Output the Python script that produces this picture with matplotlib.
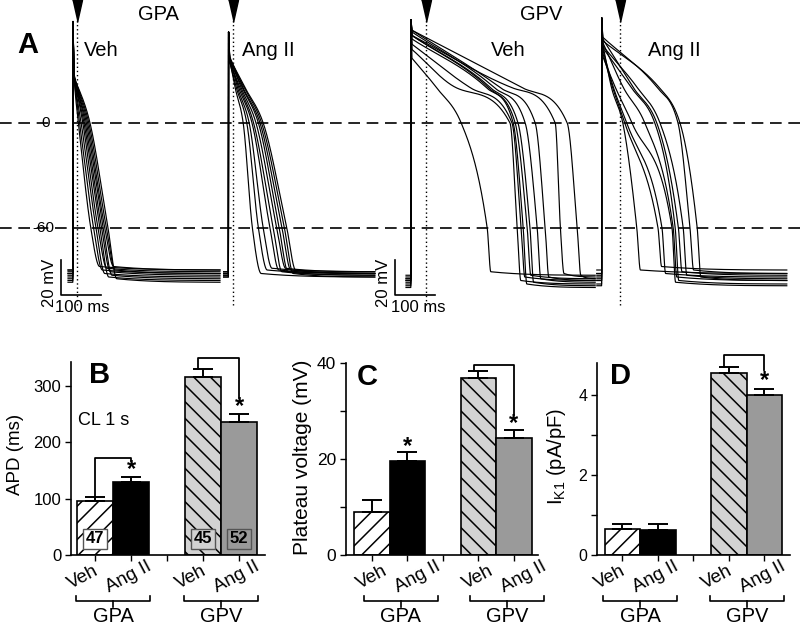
import numpy as np
import matplotlib
matplotlib.use('Agg')
import matplotlib.pyplot as plt
from matplotlib.transforms import blended_transform_factory

plt.rcParams['font.family'] = ['Liberation Sans', 'DejaVu Sans']
plt.rcParams['mathtext.fontset'] = 'custom'
plt.rcParams['mathtext.rm'] = 'Liberation Sans'
plt.rcParams['mathtext.it'] = 'Liberation Sans:italic'
plt.rcParams['hatch.linewidth'] = 1.1
plt.rcParams['hatch.color'] = 'black'

# ---------------- Panel A data ----------------
AP_ONSET_MS = [182, 571, 1027, 1504]      # upstroke of each group on the sweep
AP_STIM_MS = [193, 583, 1065, 1550]       # stimulus markers
AP_PEAK_MV = [58, 52, 59, 60]
AP_END_MS = [368, 366, 461, 463]
AP_FOOT_MS = [22, 22, 9, 9]

GPA_VEH_VSTART = [27, 26, 28, 25, 27, 26, 28, 27, 26, 25]
GPA_VEH_T20 = [5, 6, 7, 8, 9, 10, 11, 12, 13, 14]
GPA_VEH_T0 = [14, 17, 21, 25, 28, 31, 34, 37, 40, 43]
GPA_VEH_T60 = [45, 52, 58, 63, 68, 72, 76, 80, 84, 88]
GPA_VEH_VREST = [-84, -86, -88, -85, -90, -87, -89, -84, -86, -91]

GPA_ANG_VSTART = [36, 35, 37, 36, 35, 37, 36, 38, 36, 37]
GPA_ANG_T20 = [17, 20, 23, 26, 29, 32, 35, 37, 40, 42]
GPA_ANG_T0 = [37, 46, 52, 59, 63, 69, 75, 79, 83, 87]
GPA_ANG_T60 = [60, 75, 87, 104, 112, 121, 127, 134, 140, 146]
GPA_ANG_VREST = [-88, -86, -85, -86, -87, -85, -87, -86, -88, -86]

GPV_VEH_VSTART = [37, 42, 45, 48, 50, 50, 52, 53, 50, 53]
GPV_VEH_T20 = [65, 115, 150, 190, 195, 200, 210, 225, 255, 280]
GPV_VEH_T0 = [126, 248, 253, 256, 261, 268, 286, 311, 361, 391]
GPV_VEH_T60 = [191, 266, 276, 281, 291, 298, 316, 336, 374, 416]
GPV_VEH_VREST = [-87, -92, -90, -94, -89, -93, -91, -90, -88, -89]

GPV_ANG_VSTART = [45, 40, 42, 38, 46, 43, 48, 44, 49, 47]
GPV_ANG_T20 = [25, 28, 30, 35, 55, 75, 80, 90, 140, 145]
GPV_ANG_T0 = [53, 58, 63, 76, 108, 133, 138, 146, 191, 196]
GPV_ANG_T60 = [88, 141, 151, 176, 179, 184, 192, 204, 221, 239]
GPV_ANG_VREST = [-86, -84, -88, -93, -90, -92, -87, -89, -86, -90]

SCALE_MV = 20
SCALE_MS = 100

# ---------------- Panels B-D data ----------------
BAR_X = [0, 1, 3, 4]
BAR_CATS = ['Veh', 'Ang II', 'Veh', 'Ang II']
GROUPS = ['GPA', 'GPV']
APD_MEAN = [96, 129, 315, 236]
APD_SEM = [7, 10, 14, 13]
APD_N = ['47', '', '45', '52']
PLATEAU_MEAN = [9.0, 19.5, 36.9, 24.3]
PLATEAU_SEM = [2.5, 1.9, 1.4, 1.8]
IK1_MEAN = [0.66, 0.625, 4.54, 3.99]
IK1_SEM = [0.11, 0.15, 0.15, 0.17]

W, H = 800, 627
fig = plt.figure(figsize=(8, 6.27), dpi=100)


def fx(px):
    return px / W


def fy(py):
    return 1 - py / H


def smooth_curve(x, y, xi):
    """Monotone cubic Hermite curve through the knots (geometric-mean tangents + limiter)."""
    x = np.asarray(x, float)
    y = np.asarray(y, float)
    h = np.diff(x)
    d = np.diff(y) / h
    n = len(x)
    m = np.zeros(n)
    m[0] = d[0]
    m[-1] = d[-1]
    for k in range(1, n - 1):
        if d[k - 1] * d[k] > 0:
            m[k] = np.sign(d[k]) * np.sqrt(d[k - 1] * d[k])
    for k in range(n - 1):
        if d[k] == 0:
            m[k] = m[k + 1] = 0
            continue
        a = m[k] / d[k]
        b = m[k + 1] / d[k]
        s = a * a + b * b
        if s > 9:
            tau = 3 / np.sqrt(s)
            m[k] = tau * a * d[k]
            m[k + 1] = tau * b * d[k]
    idx = np.clip(np.searchsorted(x, xi) - 1, 0, n - 2)
    t = (xi - x[idx]) / h[idx]
    h00 = 2 * t**3 - 3 * t**2 + 1
    h10 = t**3 - 2 * t**2 + t
    h01 = -2 * t**3 + 3 * t**2
    h11 = t**3 - t**2
    return h00 * y[idx] + h10 * h[idx] * m[idx] + h01 * y[idx + 1] + h11 * h[idx] * m[idx + 1]


# ---------------- Panel A ----------------
PX_PER_MS = 0.4
PX_PER_MV = 1.75
Y0_PX = 123
A_TOP_PX = 320
axA = fig.add_axes([0, fy(A_TOP_PX), 1, A_TOP_PX / H])
axA.set_xlim(0, W / PX_PER_MS)
axA.set_ylim((Y0_PX - A_TOP_PX) / PX_PER_MV, Y0_PX / PX_PER_MV)
axA.axis('off')


def a_ms(px):
    return px / PX_PER_MS


def a_mv(py):
    return (Y0_PX - py) / PX_PER_MV


groups = [
    (GPA_VEH_VSTART, GPA_VEH_T20, GPA_VEH_T0, GPA_VEH_T60, GPA_VEH_VREST),
    (GPA_ANG_VSTART, GPA_ANG_T20, GPA_ANG_T0, GPA_ANG_T60, GPA_ANG_VREST),
    (GPV_VEH_VSTART, GPV_VEH_T20, GPV_VEH_T0, GPV_VEH_T60, GPV_VEH_VREST),
    (GPV_ANG_VSTART, GPV_ANG_T20, GPV_ANG_T0, GPV_ANG_T60, GPV_ANG_VREST),
]
for g, (vs, t20, t0, t60, vr) in enumerate(groups):
    onset = AP_ONSET_MS[g]
    end = AP_END_MS[g]
    foot = AP_FOOT_MS[g]
    for i in range(len(vs)):
        kt = [3, t20[i], t0[i], t60[i], t60[i] + foot, end]
        kv = [vs[i], 20, 0, -60, vr[i] + 2, vr[i]]
        tt = np.linspace(3, end, 1200)
        vv = smooth_curve(kt, kv, tt)
        t_all = np.concatenate([[-12, 0, 0.4], tt])
        v_all = np.concatenate([[vr[i], vr[i], AP_PEAK_MV[g]], vv])
        axA.plot(onset + t_all, v_all, color='black', lw=0.85)

for lvl in (0, -60):
    axA.axhline(lvl, color='black', lw=1.2, ls=(0, (7, 4)), zorder=5)
axA.text(a_ms(46), 0, '0', ha='center', va='center', fontsize=11, zorder=4)
axA.text(a_ms(54), -60, '-60', ha='right', va='center', fontsize=11, zorder=4)

tri = [(-0.45, 1), (0.45, 1), (0, -1)]
for s in AP_STIM_MS:
    axA.plot([s], [a_mv(11)], marker=tri, ms=16, color='black', clip_on=False, ls='none')
    axA.plot([s, s], [a_mv(305), a_mv(20)], color='black', lw=1.0, ls=(0, (1, 2)))

# scale bars
for sbx_px, sbx_txt_v, sbx_txt_h in [(61, 49, 82), (395, 383, 418)]:
    x0 = a_ms(sbx_px)
    yb = a_mv(295)
    axA.plot([x0, x0, x0 + SCALE_MS], [yb + SCALE_MV, yb, yb], color='black', lw=1.2)
    axA.text(a_ms(sbx_txt_v), a_mv(283), f'{SCALE_MV} mV', rotation=90, ha='center', va='center', fontsize=12)
    axA.text(a_ms(sbx_txt_h), a_mv(307), f'{SCALE_MS} ms', ha='center', va='center', fontsize=12)

fig.text(fx(28), fy(45), 'A', fontsize=21, fontweight='bold', ha='center', va='center')
fig.text(fx(158), fy(14), 'GPA', fontsize=14.5, ha='center', va='center')
fig.text(fx(541), fy(14), 'GPV', fontsize=14.5, ha='center', va='center')
for px, lab in [(101, 'Veh'), (268, 'Ang II'), (508, 'Veh'), (674, 'Ang II')]:
    fig.text(fx(px), fy(51), lab, fontsize=14.5, ha='center', va='center')

# ---------------- Panels B-D ----------------
FACES = ['white', 'black', '#d2d2d2', '#9a9a9a']
HATCHES = ['//', None, '\\\\', None]


def bar_panel(rect, unit_px, xlim, means, sems, ylim, yticks, minor, ylabel, ylab_pos, ylab_fs,
              letter, letter_pos, label_shift, tick_fs):
    ax = fig.add_axes([fx(rect[0]), fy(rect[3]), (rect[1] - rect[0]) / W, (rect[3] - rect[2]) / H])
    for x, m, fc, ht in zip(BAR_X, means, FACES, HATCHES):
        ax.bar(x, m, width=1.0, color=fc, edgecolor='black', linewidth=1.2, hatch=ht, zorder=2)
    ax.errorbar(BAR_X, means, yerr=[[0] * 4, sems], fmt='none', ecolor='black',
                elinewidth=1.4, capsize=7, capthick=1.4, zorder=3)
    ax.set_xlim(*xlim)
    ax.set_ylim(*ylim)
    ax.set_yticks(yticks)
    if minor:
        ax.set_yticks(minor, minor=True)
    ax.set_xticks([0, 1, 2, 3, 4])
    ax.set_xticklabels([])
    ax.tick_params(axis='both', which='both', direction='out', length=4, width=1.0)
    ax.tick_params(axis='y', labelsize=tick_fs, pad=3)
    for sp in ['top', 'right']:
        ax.spines[sp].set_visible(False)
    for sp in ['left', 'bottom']:
        ax.spines[sp].set_linewidth(1.2)
    fig.text(fx(ylab_pos[0]), fy(ylab_pos[1]), ylabel, rotation=90, ha='center', va='center', fontsize=ylab_fs)
    fig.text(fx(letter_pos[0]), fy(letter_pos[1]), letter, fontsize=21, fontweight='bold', ha='center', va='center')

    tr = blended_transform_factory(ax.transData, fig.transFigure)
    veh_sh, ang_sh, grp_sh = [v / unit_px for v in label_shift]
    for x, cat in zip(BAR_X, BAR_CATS):
        sh = veh_sh if cat == 'Veh' else ang_sh
        ax.text(x + sh, fy(577), cat, transform=tr, rotation=28, ha='center', va='center',
                fontsize=13.5, clip_on=False)
    half = 37 / unit_px
    for gi, gname in enumerate(GROUPS):
        c = (BAR_X[2 * gi] + BAR_X[2 * gi + 1]) / 2 + grp_sh
        ax.plot([c - half, c - half, c + half, c + half], [fy(596), fy(601), fy(601), fy(596)],
                transform=tr, color='black', lw=1.2, clip_on=False)
        ax.plot([c, c], [fy(601), fy(607)], transform=tr, color='black', lw=1.2, clip_on=False)
        ax.text(c, fy(617), gname, transform=tr, ha='center', va='center', fontsize=14.5)
    return ax


def bracket(ax, xl, xr, y_from, y_top, y_to):
    ax.plot([xl, xl, xr, xr], [y_from, y_top, y_top, y_to], color='black', lw=1.3,
            clip_on=False, zorder=4)


def star(ax, x, y):
    ax.text(x, y, '*', ha='center', va='center', fontsize=17, fontweight='bold', clip_on=False)


# B
axB = bar_panel((71, 265, 362, 555), 36, (-0.667, 4.72), APD_MEAN, APD_SEM, (0, 342),
                [0, 100, 200, 300], None, 'APD (ms)', (15, 454), 13.5, 'B', (100, 375),
                (-12, -2, 0), 12)
axB.text(0.25, 238, 'CL 1 s', ha='center', va='center', fontsize=13)
for x, n, fc in zip(BAR_X, APD_N, FACES):
    if n:
        axB.text(x, 29, n, ha='center', va='center', fontsize=12, fontweight='bold', zorder=5,
                 bbox=dict(boxstyle='square,pad=0.15', facecolor=fc, edgecolor='#555555', lw=1.0))
bracket(axB, 0, 1, APD_MEAN[0] + APD_SEM[0], 172, 166)
star(axB, 1, 152)
bracket(axB, 2.87, 4, APD_MEAN[2] + APD_SEM[2], 349, 278)
star(axB, 4, 264)

# C
axC = bar_panel((346, 538, 363, 555), 35.5, (-0.727, 4.68), PLATEAU_MEAN, PLATEAU_SEM, (0, 40),
                [0, 20, 40], [10, 30], 'Plateau voltage (mV)', (302, 457), 15, 'C', (367, 377),
                (0, 10, 11), 12.5)
star(axC, 1, 22.6)
bracket(axC, 2.87, 4, PLATEAU_MEAN[2] + PLATEAU_SEM[2], 39.5, 29.2)
star(axC, 4, 27.3)

# D
axD = bar_panel((597, 790, 363, 555), 35.5, (-0.718, 4.72), IK1_MEAN, IK1_SEM, (0, 4.8),
                [0, 2, 4], [1, 3], r'I$_{\mathrm{K1}}$ (pA/pF)', (557, 457), 14.5, 'D', (621, 376),
                (-12, -2, 0), 11.5)
bracket(axD, 2.87, 4, IK1_MEAN[2] + IK1_SEM[2], 5.0, 4.63)
star(axD, 4, 4.35)

fig.savefig('out.png', dpi=100)
